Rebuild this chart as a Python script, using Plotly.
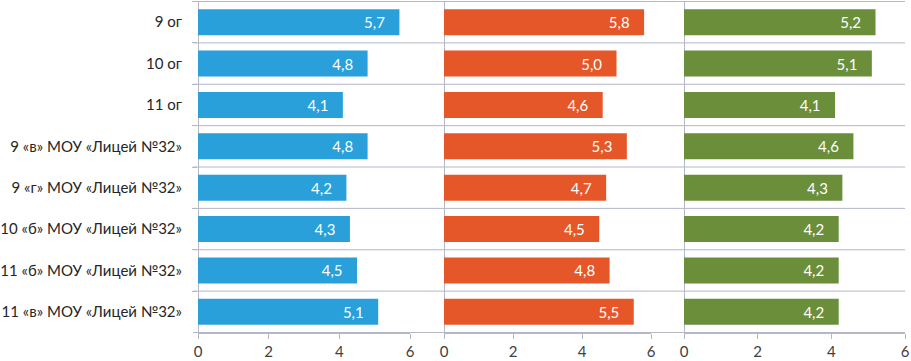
import plotly.graph_objects as go

categories = ["9 ог", "10 ог", "11 ог", "9 «в» МОУ «Лицей №32»", "9 «г» МОУ «Лицей №32»",
              "10 «б» МОУ «Лицей №32»", "11 «б» МОУ «Лицей №32»", "11 «в» МОУ «Лицей №32»"]
series1 = [5.7, 4.8, 4.1, 4.8, 4.2, 4.3, 4.5, 5.1]
series2 = [5.8, 5.0, 4.6, 5.3, 4.7, 4.5, 4.8, 5.5]
series3 = [5.2, 5.1, 4.1, 4.6, 4.3, 4.2, 4.2, 4.2]
x_ticks = [0, 2, 4, 6]

colors = ["#29A0DA", "#E55728", "#6B8E3B"]
W, H = 911, 361
FONT = "Lato"
LINE = "#B3B7C6"

fig = go.Figure()
for i, (vals, col) in enumerate(zip([series1, series2, series3], colors)):
    xa = "x" if i == 0 else f"x{i+1}"
    fig.add_trace(go.Bar(
        y=categories, x=vals, orientation="h", xaxis=xa, yaxis="y",
        marker=dict(color=col, line=dict(width=0)),
        texttemplate="%{x:.1f}\u00a0\u00a0\u00a0", textposition="inside",
        insidetextanchor="end", textangle=0,
        textfont=dict(color="white", size=15, family=FONT),
        hoverinfo="skip", showlegend=False,
    ))

domains = [(198 / W, 410 / W), (444 / W, 651 / W), (684 / W, 905 / W)]
axis_common = dict(range=[0, 6], tickvals=x_ticks, showgrid=False, zeroline=True,
                   zerolinecolor=LINE, zerolinewidth=1,
                   showline=True, linecolor=LINE, linewidth=1,
                   ticks="outside", ticklen=5, tickcolor=LINE,
                   tickfont=dict(size=15, family=FONT, color="#404040"),
                   anchor="y", fixedrange=True, automargin=False)
layout = dict(
    width=W, height=H, margin=dict(l=0, r=0, t=1, b=28, autoexpand=False),
    paper_bgcolor="white", plot_bgcolor="white",
    separators=", ", bargap=0.37,
    yaxis=dict(categoryorder="array", categoryarray=categories, autorange="reversed",
               anchor="x", showgrid=False, zeroline=False, showline=False,
               ticks="outside", tickson="boundaries", ticklen=5, tickcolor=LINE,
               ticklabelstandoff=15, automargin=False,
               tickfont=dict(size=15, family=FONT, color="#262626")),
    font=dict(family=FONT),
)
for i, d in enumerate(domains):
    key = "xaxis" if i == 0 else f"xaxis{i+1}"
    layout[key] = dict(axis_common, domain=list(d))
fig.update_layout(**layout)

shapes = []
for k in range(len(categories) + 1):
    shapes.append(dict(type="line", xref="paper", yref="y", x0=193 / W, x1=905 / W,
                       y0=k - 0.5, y1=k - 0.5, line=dict(color=LINE, width=1), layer="below"))
fig.update_layout(shapes=shapes)

fig.write_html("out.html", config={"displayModeBar": False},
               post_script="document.body.style.margin='0';document.body.style.overflow='hidden';")
